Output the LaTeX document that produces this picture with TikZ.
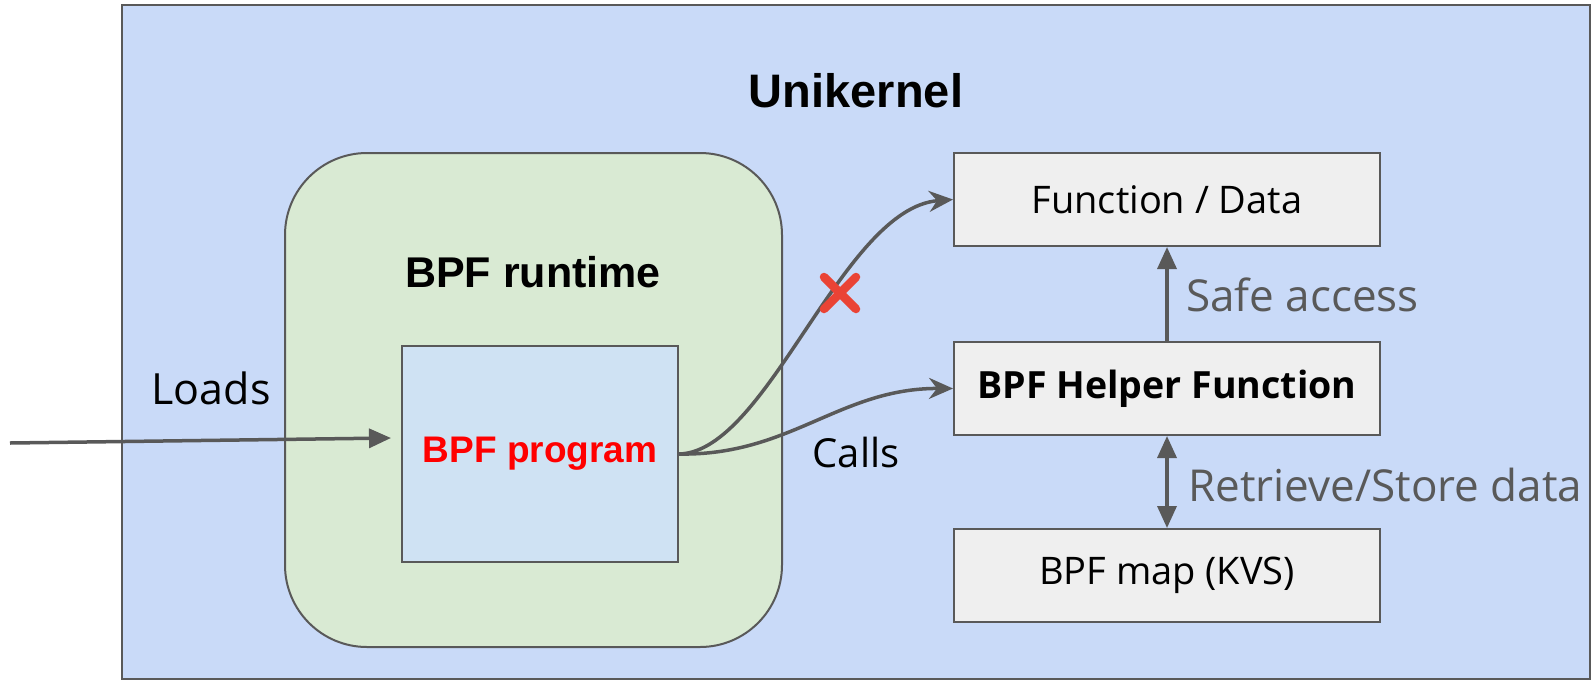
\documentclass[tikz,border=0pt]{standalone}
\usepackage{fontspec}
\setmainfont{Open Sans}
\newfontfamily\headfont{Liberation Sans}
\usetikzlibrary{arrows.meta}
\definecolor{unibg}{HTML}{C9DAF8}
\definecolor{rtbg}{HTML}{D9EAD3}
\definecolor{progbg}{HTML}{CFE2F3}
\definecolor{boxbg}{HTML}{EFEFEF}
\definecolor{edge}{HTML}{595959}
\definecolor{crossred}{HTML}{EA4335}
\tikzset{
  frame/.style={draw=edge, line width=2pt, inner sep=0pt},
  plainbox/.style={frame, fill=boxbg, minimum width=426pt, minimum height=93pt, font=\fontsize{38}{44}\selectfont},
  link/.style={draw=edge, line width=3.5pt},
  tri/.style={-{Triangle[length=22pt,width=19pt]}},
  bitri/.style={{Triangle[length=22pt,width=19pt]}-{Triangle[length=22pt,width=19pt]}},
  stl/.style={-{Stealth[length=24pt,width=21pt,inset=8pt]}},
  note/.style={font=\fontsize{43}{48}\selectfont, inner sep=0pt},
  graynote/.style={note, font=\fontsize{44}{50}\selectfont, text=edge, anchor=west}
}
\begin{document}
\begin{tikzpicture}[x=1pt,y=-1pt]
\useasboundingbox (0,0) rectangle (1593,681);
% unikernel frame
\node[frame, line width=2.5pt, fill=unibg, minimum width=1468pt, minimum height=674pt] (uni) at (856,342) {};
\node[inner sep=0pt, font=\headfont\bfseries\fontsize{47}{52}\selectfont] (unititle) at (856,91) {Unikernel};
% BPF runtime
\node[frame, fill=rtbg, rounded corners=82pt, minimum width=497pt, minimum height=494pt] (rt) at (533.5,400) {};
\node[inner sep=0pt, font=\headfont\bfseries\fontsize{43}{48}\selectfont] (rttitle) at (533,272) {BPF runtime};
\node[frame, fill=progbg, minimum width=276pt, minimum height=216pt, text=red,
      font=\headfont\bfseries\fontsize{37}{42}\selectfont] (prog) at (540,454) {BPF program};
% right column
\node[plainbox] (fd) at (1167,199.5) {Function / Data};
\node[plainbox, font=\bfseries\fontsize{37.5}{44}\selectfont] (helper) at (1167,388.5) {BPF Helper Function};
\node[plainbox] (map) at (1167,575.5) {BPF map (KVS)};
% loading arrow
\coordinate (src) at (10,443);
\draw[link, tri] (src) -- ([xshift=-10pt,yshift=16pt]prog.west);
\node[note] (loads) at (211,388) {Loads};
% calls from the program
\draw[link, stl] (prog.east) .. controls (768,452) and (842,208) .. (fd.west);
\draw[link, stl] (prog.east) .. controls (790,456) and (840,388) .. (helper.west);
\node[note, font=\fontsize{40}{46}\selectfont] (calls) at (856,452) {Calls};
% blocked direct access
\coordinate (cross) at (840,293);
\draw[crossred, line width=8.5pt, line cap=round] ([xshift=-16pt,yshift=16pt]cross) -- ([xshift=16pt,yshift=-16pt]cross)
      ([xshift=-16pt,yshift=-16pt]cross) -- ([xshift=16pt,yshift=16pt]cross);
% helper accesses
\draw[link, tri] (helper.north) -- (fd.south);
\draw[link, bitri] (helper.south) -- (map.north);
\node[graynote] (safe) at (1186,295) {Safe access};
\node[graynote] (store) at (1188,485) {Retrieve/Store data};
\end{tikzpicture}
\end{document}
